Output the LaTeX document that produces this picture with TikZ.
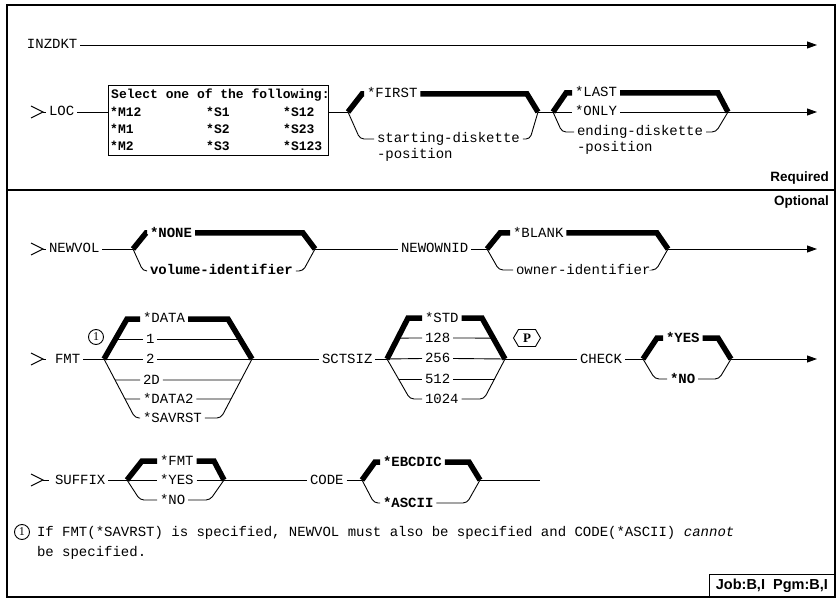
\documentclass[tikz,border=0pt]{standalone}
\usepackage{fontspec}
\usetikzlibrary{arrows.meta,calc}
\newfontfamily\lab{Liberation Mono}
\newfontfamily\hsans{Liberation Sans}
\newfontfamily\hserif{Liberation Serif}
\begin{document}
\begin{tikzpicture}[x=1pt,y=-1pt,
  thin/.style={line width=0.9pt},
  thk/.style={line width=5.5pt, line join=miter, miter limit=10},
  rc/.style={thin, rounded corners=4pt},
  tx/.style={font=\lab\fontsize{14}{16}\selectfont, inner sep=0pt, outer sep=3pt, text height=8pt, text depth=0pt, anchor=west},
  btx/.style={tx, font=\lab\bfseries\fontsize{14}{16}\selectfont},
  boxtx/.style={font=\lab\bfseries\fontsize{13}{14}\selectfont, inner sep=0pt, text height=8pt, text depth=0pt, anchor=west},
  arr/.style={thin, -{Triangle[length=10pt,width=7pt]}},
  startm/.style={thin},
  note/.style={draw, circle, thin, inner sep=0pt, minimum size=15pt, font=\hserif\fontsize{12}{12}\selectfont},
  sect/.style={font=\hsans\bfseries\fontsize{13.5}{15}\selectfont, inner sep=0pt, anchor=east}
]
\useasboundingbox (0,0) rectangle (839,599);
% frame
\draw[line width=1.4pt] (7,5) rectangle (835,597);
\draw[line width=1.8pt] (7,190) -- (835,190);
\node[sect] (req) at (829,178) {Required};
\node[sect] (opt) at (829,202) {Optional};
\node[draw, line width=1.2pt, anchor=south east, minimum width=125pt, minimum height=22pt, inner sep=0pt,
      font=\hsans\bfseries\fontsize{14.5}{16}\selectfont] (job) at (835,597) {Job:B,I\ \ Pgm:B,I};

% INZDKT
\node[tx] (inz) at (24,45) {INZDKT};
\coordinate (inzE) at (817,45);
\draw[arr] (inz.east) -- (inzE);

% LOC row
\coordinate (locG) at (43,112);
\draw[startm] (31,106) -- (locG) -- (31,118);
\node[tx] (loc) at (46,112) {LOC};
\draw[thin] (locG) -- (loc.west);
\node[draw, thin, anchor=north west, minimum width=220pt, minimum height=70pt, inner sep=0pt] (box) at (108,85) {};
\node[boxtx] (sel) at (111,95) {Select one of the following:};
\node[boxtx] (m12) at (110,113) {*M12};
\node[boxtx] (m1) at (110,130) {*M1};
\node[boxtx] (m2) at (110,147) {*M2};
\node[boxtx] (s1) at (206,113) {*S1};
\node[boxtx] (s2) at (206,130) {*S2};
\node[boxtx] (s3) at (206,147) {*S3};
\node[boxtx] (s12) at (283,113) {*S12};
\node[boxtx] (s23) at (283,130) {*S23};
\node[boxtx] (s123) at (283,147) {*S123};
\draw[thin] (loc.east) -- (box.west |- loc.east);
\coordinate (fL) at (348,112);
\coordinate (fR) at (538,112);
\draw[thin] (box.east |- fL) -- (fL);
% FIRST bracket
\node[tx] (first) at (364,94) {*FIRST};
\draw[thk] (fL) -- (362,94) -- (first.west);
\draw[thk] (first.east) -- (527,94) -- (fR);
\node[tx] (sd) at (374,139) {starting-diskette};
\node[tx] (sp) at (374,155) {-position};
\draw[rc] (fL) -- (360,139) -- (sd.west);
\draw[rc] (sd.east) -- (530,139) -- (fR);
% LAST bracket
\coordinate (lL) at (553,112);
\coordinate (lR) at (728,112);
\draw[thin] (fR) -- (lL);
\node[tx] (last) at (572,93) {*LAST};
\draw[thk] (lL) -- (566,93) -- (last.west);
\draw[thk] (last.east) -- (718,93) -- (lR);
\node[tx] (only) at (572,112) {*ONLY};
\draw[thin] (lL) -- (only.west);
\draw[thin] (only.east) -- (lR);
\node[tx] (ed) at (574,132) {ending-diskette};
\node[tx] (ep) at (574,148) {-position};
\draw[rc] (lL) -- (562,132) -- (ed.west);
\draw[rc] (ed.east) -- (716,132) -- (lR);
\coordinate (locE) at (817,112);
\draw[arr] (lR) -- (locE);

% NEWVOL row
\coordinate (nvG) at (43,249);
\draw[startm] (31,243) -- (nvG) -- (31,255);
\node[tx] (newvol) at (46,249) {NEWVOL};
\draw[thin] (nvG) -- (newvol.west);
\coordinate (nvL) at (133,249);
\coordinate (nvR) at (315,249);
\draw[thin] (newvol.east) -- (nvL);
\node[btx] (none) at (147,233) {*NONE};
\draw[thk] (nvL) -- (146,233) -- (none.west);
\draw[thk] (none.east) -- (303,233) -- (nvR);
\node[btx] (volid) at (147,271) {volume-identifier};
\draw[rc] (nvL) -- (143,271) -- (volid.west);
\draw[rc] (volid.east) -- (303,271) -- (nvR);
\node[tx] (newown) at (398,249) {NEWOWNID};
\draw[thin] (nvR) -- (newown.west);
\coordinate (noL) at (487,249);
\coordinate (noR) at (668,249);
\draw[thin] (newown.east) -- (noL);
\node[tx] (blank) at (510,233) {*BLANK};
\draw[thk] (noL) -- (500,233) -- (blank.west);
\draw[thk] (blank.east) -- (657,233) -- (noR);
\node[tx] (ownid) at (513,270) {owner-identifier};
\draw[rc] (noL) -- (499,270) -- (ownid.west);
\draw[rc] (ownid.east) -- (656,270) -- (noR);
\coordinate (nvE) at (817,249);
\draw[arr] (noR) -- (nvE);

% FMT row
\coordinate (fmG) at (43,359);
\draw[startm] (31,353) -- (fmG) -- (31,365);
\draw[thin] (fmG) -- (46,359);
\node[tx] (fmt) at (52,359) {FMT};
\node[note] (c1) at (96,337) {1};
\coordinate (fmL) at (104,359);
\coordinate (fmR) at (252,359);
\coordinate (fmT) at (127,319);
\coordinate (fmRT) at (228,319);
\coordinate (fmLB) at (135,418);
\coordinate (fmRB) at (221,418);
\draw[thin] (fmt.east) -- (fmL);
\node[tx] (data) at (140,319) {*DATA};
\draw[thk] (fmL) -- (fmT) -- (data.west);
\draw[thk] (data.east) -- (fmRT) -- (fmR);
\node[tx] (one) at (143,339) {1};
\draw[thin] ($(fmL)!0.5!(fmT)$) -- (one.west);
\draw[thin] (one.east) -- ($(fmR)!0.5!(fmRT)$);
\node[tx] (two) at (143,359) {2};
\draw[thin] (fmL) -- (two.west);
\draw[thin] (two.east) -- (fmR);
\node[tx] (twod) at (140,380) {2D};
\draw[thin] ($(fmL)!0.356!(fmLB)$) -- (twod.west);
\draw[thin] (twod.east) -- ($(fmR)!0.356!(fmRB)$);
\node[tx] (data2) at (140,399) {*DATA2};
\draw[thin] ($(fmL)!0.678!(fmLB)$) -- (data2.west);
\draw[thin] (data2.east) -- ($(fmR)!0.678!(fmRB)$);
\node[tx] (savrst) at (140,418) {*SAVRST};
\draw[rc] (fmL) -- (fmLB) -- (savrst.west);
\draw[rc] (savrst.east) -- (fmRB) -- (fmR);
% SCTSIZ
\node[tx] (sct) at (319,359) {SCTSIZ};
\draw[thin] (fmR) -- (sct.west);
\coordinate (scL) at (387,359);
\coordinate (scR) at (505,359);
\coordinate (scT) at (408,318);
\coordinate (scRT) at (482,318);
\coordinate (scLB) at (410,399);
\coordinate (scRB) at (484,399);
\draw[thin] (sct.east) -- (scL);
\node[tx] (std) at (422,318) {*STD};
\draw[thk] (scL) -- (scT) -- (std.west);
\draw[thk] (std.east) -- (scRT) -- (scR);
\node[tx] (s128) at (422,338) {128};
\draw[thin] ($(scL)!0.51!(scT)$) -- (s128.west);
\draw[thin] (s128.east) -- ($(scR)!0.51!(scRT)$);
\node[tx] (s256) at (422,358.5) {256};
\draw[thin] (scL) -- (s256.west);
\draw[thin] (s256.east) -- (scR);
\node[tx] (s512) at (422,379) {512};
\draw[thin] ($(scL)!0.5!(scLB)$) -- (s512.west);
\draw[thin] (s512.east) -- ($(scR)!0.5!(scRB)$);
\node[tx] (s1024) at (422,399) {1024};
\draw[rc] (scL) -- (scLB) -- (s1024.west);
\draw[rc] (s1024.east) -- (scRB) -- (scR);
% P hexagon
\node[font=\hserif\bfseries\fontsize{13}{13}\selectfont, inner sep=0pt] (pp) at (527,338) {P};
\draw[thin] ($(pp)+(-13.5,0)$) -- ++(5,-8.5) -- ++(17,0) -- ++(5,8.5) -- ++(-5,8.5) -- ++(-17,0) -- cycle;
% CHECK
\node[tx] (check) at (577,359) {CHECK};
\draw[thin] (scR) -- (check.west);
\coordinate (chL) at (643,359);
\coordinate (chR) at (731,359);
\draw[thin] (check.east) -- (chL);
\node[btx] (yes) at (663,338) {*YES};
\draw[thk] (chL) -- (657,338) -- (yes.west);
\draw[thk] (yes.east) -- (718,338) -- (chR);
\node[btx] (no) at (667,379) {*NO};
\draw[rc] (chL) -- (655,379) -- (no.west);
\draw[rc] (no.east) -- (719,379) -- (chR);
\coordinate (chE) at (817,359);
\draw[arr] (chR) -- (chE);

% SUFFIX row
\coordinate (sfG) at (43,480);
\draw[startm] (31,474) -- (sfG) -- (31,486);
\draw[thin] (sfG) -- (49,480);
\node[tx] (suffix) at (52,480) {SUFFIX};
\coordinate (sfL) at (127,480);
\coordinate (sfR) at (224,480);
\coordinate (sfT) at (142,461);
\coordinate (sfRT) at (214,461);
\coordinate (sfLB) at (140,500);
\coordinate (sfRB) at (210,500);
\draw[thin] (suffix.east) -- (sfL);
\node[tx] (sfmt) at (157,461) {*FMT};
\draw[thk] (sfL) -- (sfT) -- (sfmt.west);
\draw[thk] (sfmt.east) -- (sfRT) -- (sfR);
\node[tx] (syes) at (157,480) {*YES};
\draw[thin] (sfL) -- (syes.west);
\draw[thin] (syes.east) -- (sfR);
\node[tx] (sno) at (157,500) {*NO};
\draw[rc] (sfL) -- (sfLB) -- (sno.west);
\draw[rc] (sno.east) -- (sfRB) -- (sfR);
\node[tx] (code) at (307,480) {CODE};
\draw[thin] (sfR) -- (code.west);
\coordinate (cdL) at (362,480);
\coordinate (cdR) at (480,480);
\coordinate (cdT) at (375,462);
\coordinate (cdRT) at (469,462);
\draw[thin] (code.east) -- (cdL);
\node[btx] (ebc) at (380,462) {*EBCDIC};
\draw[thk] (cdL) -- (cdT) -- (ebc.west);
\draw[thk] (ebc.east) -- (cdRT) -- (cdR);
\node[btx] (ascii) at (380,503) {*ASCII};
\draw[rc] (cdL) -- (374,503) -- (ascii.west);
\draw[rc] (ascii.east) -- (467,503) -- (cdR);
\coordinate (cdE) at (540,480);
\draw[thin] (cdR) -- (cdE);

% footnote
\node[note] (c2) at (22,532) {1};
\node[tx] (fn1) at (34,532) {If FMT(*SAVRST) is specified, NEWVOL must also be specified and CODE(*ASCII) \textit{cannot}};
\node[tx] (fn2) at (34,552) {be specified.};
\end{tikzpicture}
\end{document}
